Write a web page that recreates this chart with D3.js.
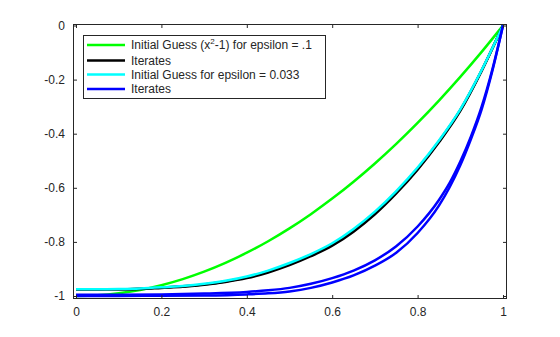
<!DOCTYPE html>
<html>
<head>
<meta charset="utf-8">
<script src="https://cdn.jsdelivr.net/npm/d3@7"></script>
<style>
  body { margin: 0; background: #fff; }
  svg { font-family: "Liberation Sans", Arial, Helvetica, sans-serif; }
</style>
</head>
<body>
<div id="chart"></div>
<script>
// valores
const xGrid = [0, 0.05, 0.1, 0.15, 0.2, 0.25, 0.3, 0.35, 0.4, 0.45, 0.5,
               0.55, 0.6, 0.65, 0.7, 0.75, 0.8, 0.85, 0.9, 0.95, 1];
const greenGuess = [-1, -0.9975, -0.99, -0.9775, -0.96, -0.9375, -0.91, -0.8775, -0.84, -0.7975, -0.75,
                    -0.6975, -0.64, -0.5775, -0.51, -0.4375, -0.36, -0.2775, -0.19, -0.0975, 0];
const blackIter1 = [-0.976, -0.976, -0.975, -0.974, -0.970, -0.966, -0.958, -0.948, -0.934, -0.913, -0.886,
                    -0.853, -0.814, -0.762, -0.698, -0.621, -0.533, -0.432, -0.316, -0.168, 0];
const blackIter2 = [-0.975, -0.975, -0.975, -0.973, -0.969, -0.964, -0.957, -0.946, -0.931, -0.909, -0.881,
                    -0.848, -0.809, -0.756, -0.692, -0.616, -0.529, -0.428, -0.312, -0.166, 0];
const cyanGuess = [-0.975, -0.975, -0.974, -0.972, -0.968, -0.963, -0.955, -0.944, -0.928, -0.906, -0.878,
                   -0.845, -0.805, -0.752, -0.688, -0.612, -0.525, -0.425, -0.310, -0.165, 0];

const xBlue = [0, 0.1, 0.2, 0.3, 0.4, 0.45, 0.5, 0.55, 0.6, 0.65, 0.7, 0.75, 0.8,
               0.85, 0.875, 0.9, 0.925, 0.95, 0.975, 1];
const blueIter1 = [-0.995, -0.995, -0.994, -0.991, -0.985, -0.979, -0.970, -0.955, -0.934, -0.906, -0.868, -0.816, -0.743,
                   -0.645, -0.582, -0.503, -0.410, -0.300, -0.163, 0];
const blueIter2 = [-1.0, -1.0, -0.999, -0.998, -0.994, -0.990, -0.983, -0.970, -0.950, -0.924, -0.888, -0.840, -0.767,
                   -0.666, -0.598, -0.517, -0.420, -0.310, -0.168, 0];

const xTicks = [0, 0.2, 0.4, 0.6, 0.8, 1];
const yTicks = [0, -0.2, -0.4, -0.6, -0.8, -1];
const yTickLabels = ["0", "-0.2", "-0.4", "-0.6", "-0.8", "-1"];

const W = 560, H = 337;
const box = { left: 73, right: 507, top: 24, bottom: 299 };
const axisColor = "#262626";

const svg = d3.select("#chart").append("svg")
    .attr("width", W).attr("height", H);

const x = d3.scaleLinear().domain([0, 1]).range([76, 503]);
const y = d3.scaleLinear().domain([-1, 0]).range([296, 25.5]);

// curvas
const line = d3.line()
    .x(d => x(d[0]))
    .y(d => y(d[1]))
    .curve(d3.curveMonotoneX);

const series = [
    { xs: xGrid, ys: greenGuess, color: "#00ff00" },
    { xs: xGrid, ys: blackIter1, color: "#000000" },
    { xs: xGrid, ys: blackIter2, color: "#000000" },
    { xs: xGrid, ys: cyanGuess, color: "#00ffff" },
    { xs: xBlue, ys: blueIter1, color: "#0000ff" },
    { xs: xBlue, ys: blueIter2, color: "#0000ff" }
];

svg.append("defs").append("clipPath").attr("id", "clip")
  .append("rect")
    .attr("x", box.left).attr("y", box.top)
    .attr("width", box.right - box.left).attr("height", box.bottom - box.top);

const plot = svg.append("g").attr("clip-path", "url(#clip)");
series.forEach(s => {
    plot.append("path")
        .datum(s.xs.map((v, i) => [v, s.ys[i]]))
        .attr("fill", "none")
        .attr("stroke", s.color)
        .attr("stroke-width", 2.5)
        .attr("stroke-linejoin", "round")
        .attr("d", line);
});

// eixos (ticks para dentro, caixa completa)
const tickLen = 4;
const bottomAxis = d3.axisBottom(x).tickValues(xTicks).tickSize(-tickLen).tickPadding(8).tickFormat(d3.format("~g"));
const topAxis = d3.axisTop(x).tickValues(xTicks).tickSize(-tickLen).tickFormat("");
const leftAxis = d3.axisLeft(y).tickValues(yTicks).tickSize(-tickLen).tickPadding(8)
    .tickFormat((d, i) => yTickLabels[i]);
const rightAxis = d3.axisRight(y).tickValues(yTicks).tickSize(-tickLen).tickFormat("");

function styleAxis(g) {
    g.select(".domain").remove();
    g.selectAll(".tick line").attr("stroke", axisColor);
    g.selectAll(".tick text").attr("fill", axisColor).style("font-size", "12px");
}

svg.append("g").attr("transform", `translate(0,${box.bottom})`).call(bottomAxis).call(styleAxis);
svg.append("g").attr("transform", `translate(0,${box.top})`).call(topAxis).call(styleAxis);
svg.append("g").attr("transform", `translate(${box.left},0)`).call(leftAxis).call(styleAxis);
svg.append("g").attr("transform", `translate(${box.right},0)`).call(rightAxis).call(styleAxis);

svg.append("rect")
    .attr("x", box.left + 0.5).attr("y", box.top + 0.5)
    .attr("width", box.right - box.left - 1).attr("height", box.bottom - box.top - 1)
    .attr("fill", "none").attr("stroke", axisColor).attr("stroke-width", 1);

// legenda
const legendItems = [
    { label: "Initial Guess (x", sup: "2", rest: "-1) for epsilon = .1", color: "#00ff00" },
    { label: "Iterates", color: "#000000" },
    { label: "Initial Guess for epsilon = 0.033", color: "#00ffff" },
    { label: "Iterates", color: "#0000ff" }
];
const legendRows = [45, 60.5, 74.5, 89];

const legend = svg.append("g");
legend.append("rect")
    .attr("x", 83.5).attr("y", 35.5)
    .attr("width", 242).attr("height", 63)
    .attr("fill", "#fff").attr("stroke", axisColor).attr("stroke-width", 1);

legendItems.forEach((d, i) => {
    const yy = legendRows[i];
    legend.append("line")
        .attr("x1", 87).attr("x2", 125)
        .attr("y1", yy).attr("y2", yy)
        .attr("stroke", d.color).attr("stroke-width", 2.5);
    const t = legend.append("text")
        .attr("x", 131).attr("y", yy + 4)
        .attr("fill", axisColor)
        .style("font-size", "12px");
    t.append("tspan").text(d.label);
    if (d.sup) {
        t.append("tspan").attr("dy", -5).style("font-size", "8px").text(d.sup);
        t.append("tspan").attr("dy", 5).text(d.rest);
    }
});
</script>
</body>
</html>
